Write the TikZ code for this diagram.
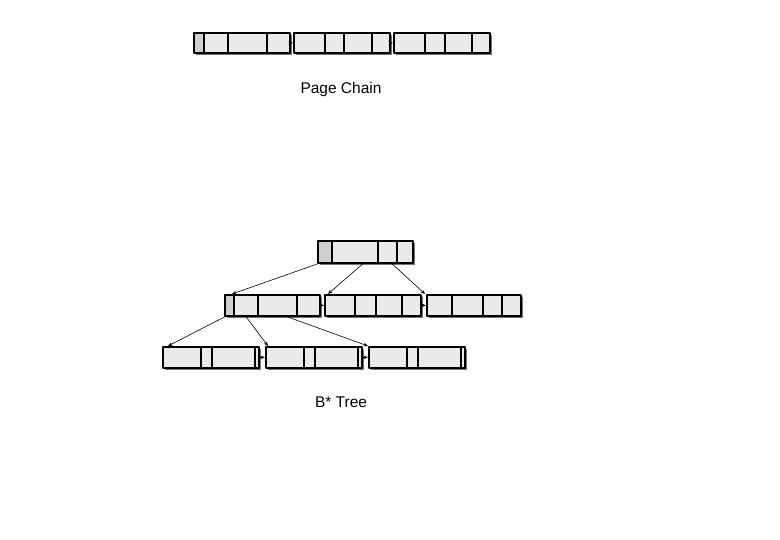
\documentclass[tikz,border=0pt]{standalone}
\usepackage{fontspec}
\setmainfont{Liberation Sans}
\usetikzlibrary{shadows,arrows.meta}
\definecolor{cellfill}{HTML}{EAEAEA}
\definecolor{keyfill}{HTML}{CFCFCF}
\newcommand\cellsof[2]{\foreach \d in {#2}
	\draw[line width=1.3pt] ([xshift=\d pt]#1.north west) -- ([xshift=\d pt]#1.south west);}
\begin{document}
\begin{tikzpicture}[x=1pt,y=-1pt,line join=round,
	page/.style={draw,line width=1.7pt,fill=cellfill,inner sep=0pt,anchor=north west,
		minimum height=20pt,minimum width=96pt,
		drop shadow={shadow xshift=2.2pt,shadow yshift=-2.2pt,fill=black!55,opacity=1}},
	keyed/.style={path picture={\fill[keyfill] (path picture bounding box.north west)
			rectangle ([xshift=#1pt]path picture bounding box.south west);}},
	link/.style={-{Stealth[length=4.5pt,width=3.5pt]},line width=0.6pt},
	lbl/.style={font=\fontsize{15.5}{18}\selectfont}]
	\useasboundingbox (0,0) rectangle (780,540);
	
	%------------page chain
	\node[page,keyed=11] (c1) at (193,32) {};
	\node[page] (c2) at (293,32) {};
	\node[page] (c3) at (393,32) {};
	\cellsof{c1}{11,35,74}
	\cellsof{c2}{32,51,79}
	\cellsof{c3}{32,52,79}
	\draw[link] (c1) -- (c2);
	\draw[link] (c2) -- (c3);
	\node[lbl] (pc) at (341,89) {Page Chain};
	
	%------------b* tree
	\node[page,keyed=15,minimum width=95pt,minimum height=22pt] (root) at (317,240) {};
	\node[page,keyed=10,minimum width=95pt,minimum height=21pt] (na) at (224,294) {};
	\node[page,minimum height=21pt] (nb) at (324,294) {};
	\node[page,minimum width=94pt,minimum height=21pt] (nc) at (426,294) {};
	\node[page,minimum height=21pt] (ld) at (162,346) {};
	\node[page,minimum height=21pt] (le) at (265,346) {};
	\node[page,minimum height=21pt] (lf) at (368,346) {};
	\cellsof{root}{15,61,80}
	\cellsof{na}{10,34,73}
	\cellsof{nb}{31,52,78}
	\cellsof{nc}{26,57,76}
	\foreach \n in {ld,le,lf} {\cellsof{\n}{39,50,93}}
	
	\draw[link] ([xshift=1pt]root.south west) -- ([xshift=8pt]na.north west);
	\draw[link] ([xshift=46pt]root.south west) -- ([xshift=4pt]nb.north west);
	\draw[link] ([xshift=75pt]root.south west) -- ([xshift=-1pt]nc.north west);
	\draw[link] ([xshift=1pt]na.south west) -- ([xshift=6pt]ld.north west);
	\draw[link] ([xshift=22pt]na.south west) -- ([xshift=3pt]le.north west);
	\draw[link] ([xshift=63pt]na.south west) -- ([xshift=0pt]lf.north west);
	\draw[link] (na) -- (nb);
	\draw[link] (nb) -- (nc);
	\draw[link] (ld) -- (le);
	\draw[link] (le) -- (lf);
	\node[lbl] (bt) at (341,402) {B* Tree};
\end{tikzpicture}
\end{document}
